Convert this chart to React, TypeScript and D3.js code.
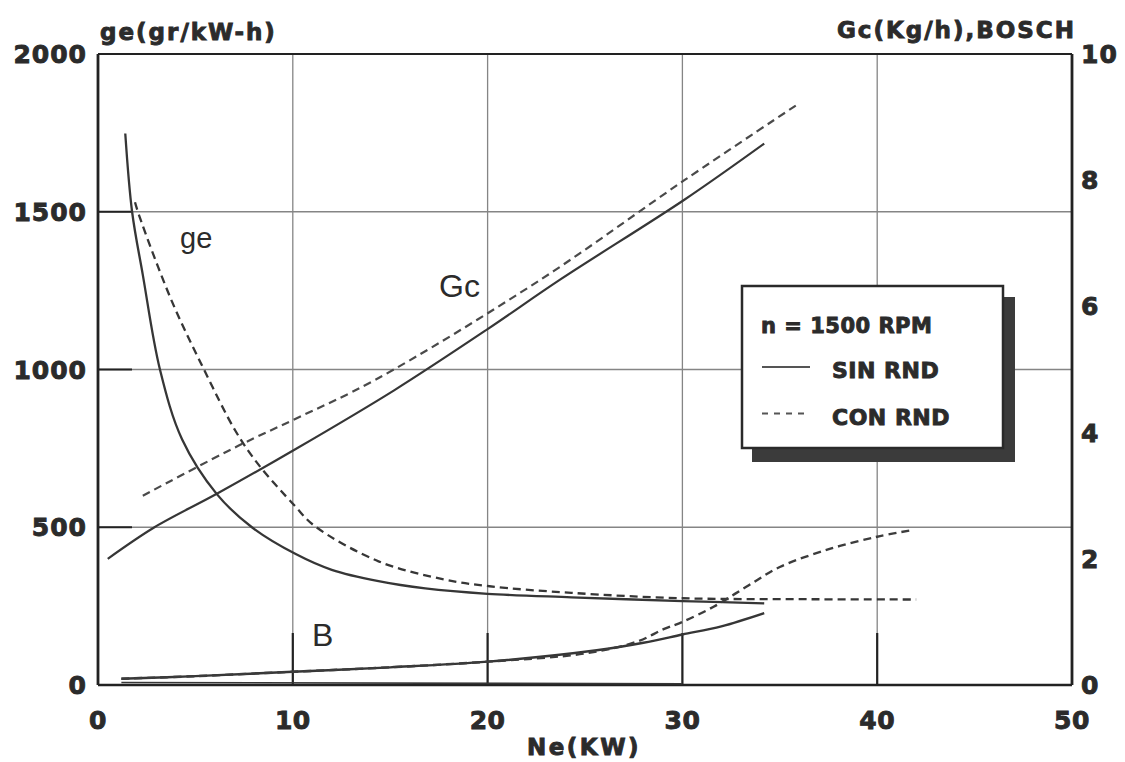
import React from "react";
import * as d3 from "d3";

// x: Ne (kW)
const xTicks = [0, 10, 20, 30, 40, 50];
const yLeftTicks = [0, 500, 1000, 1500, 2000];
const yRightTicks = [0, 2, 4, 6, 8, 10];
const gridX = [10, 20, 30, 40];
const gridY = [500, 1000, 1500];

// ge (gr/kW-h) – SIN RND (solid)
const geSinNe = [1.4, 1.75, 2.3, 3.18, 4.32, 6.1, 7.9, 10.15, 12, 14.4, 16.8, 20, 24.3, 30, 34.2];
const geSinVal = [1748, 1500, 1300, 1000, 778, 605, 500, 415, 365, 329, 306, 289, 278, 266, 259];
// ge – CON RND (dashed)
const geConNe = [1.9, 2.1, 3.8, 5.44, 7.06, 8.22, 10.1, 11.1, 14.4, 17.8, 20.1, 24.3, 30, 36, 42];
const geConVal = [1530, 1490, 1215, 1000, 805, 700, 568, 505, 392, 334, 313, 292, 275, 272, 271];

// Gc (Kg/h) – SIN RND (solid), right axis
const gcSinNe = [0.5, 2.9, 6.1, 10.15, 15.2, 20, 23.7, 30.1, 34.2];
const gcSinVal = [2.0, 2.5, 3.03, 3.74, 4.67, 5.64, 6.42, 7.69, 8.58];
// Gc – CON RND (dashed)
const gcConNe = [2.3, 7.2, 10.15, 14.2, 22.7, 30.1, 36];
const gcConVal = [3.0, 3.79, 4.22, 4.83, 6.42, 8.0, 9.22];

// B – SIN RND (solid), right axis
const bSinNe = [1.2, 5, 10, 15, 20, 25.6, 28, 30, 32, 34.2];
const bSinVal = [0.1, 0.14, 0.21, 0.28, 0.37, 0.55, 0.67, 0.8, 0.93, 1.14];
// B – CON RND (dashed)
const bConNe = [1.2, 5, 10, 15, 20, 25, 27.7, 29, 30, 31.6, 33.3, 35, 37.6, 40, 41.7];
const bConVal = [0.1, 0.14, 0.21, 0.28, 0.37, 0.5, 0.69, 0.88, 1.0, 1.24, 1.56, 1.87, 2.16, 2.35, 2.45];
// faint trace just above the axis
const traceNe = [1.2, 30];
const traceVal = [0.04, 0.02];

const legendTitle = "n = 1500 RPM";
const legendItems = [
  { label: "SIN RND", dashed: false },
  { label: "CON RND", dashed: true },
];

const W = 1125;
const H = 762;
const left = 98;
const right = 1072;
const top = 54;
const bottom = 685;

export default function App() {
  const x = d3.scaleLinear().domain([0, 50]).range([left, right]);
  const yL = d3.scaleLinear().domain([0, 2000]).range([bottom, top]);
  const yR = d3.scaleLinear().domain([0, 10]).range([bottom, top]);

  const mk = (xs: number[], ys: number[], ys2: (v: number) => number) =>
    d3
      .line<number>()
      .x((_, i) => x(xs[i]))
      .y((_, i) => ys2(ys[i]))
      .curve(d3.curveCatmullRom.alpha(0.5))(ys) as string;

  const boldFont = "'DejaVu Sans', sans-serif";
  const txt = "#2b2b2b";
  const curve = "#363636";
  const dash = "8,5";
  const heavy = { stroke: txt, strokeWidth: 0.9, paintOrder: "stroke" } as const;

  return (
    <svg
      width={W}
      height={H}
      style={{ position: "absolute", left: 0, top: 0, background: "#fff" }}
    >
      <rect x={0} y={0} width={W} height={H} fill="#fff" />
      {/* grid */}
      {gridX.map((v) => (
        <line key={"gx" + v} x1={x(v)} x2={x(v)} y1={top} y2={bottom} stroke="#858585" strokeWidth={1.3} />
      ))}
      {gridY.map((v) => (
        <line key={"gy" + v} x1={left} x2={right} y1={yL(v)} y2={yL(v)} stroke="#858585" strokeWidth={1.3} />
      ))}
      {/* emphasised ticks */}
      {gridX.map((v) => (
        <line key={"tx" + v} x1={x(v)} x2={x(v)} y1={bottom} y2={bottom - 52} stroke="#222" strokeWidth={2.2} />
      ))}
      {gridY.map((v) => (
        <line key={"ty" + v} x1={left} x2={left + 34} y1={yL(v)} y2={yL(v)} stroke="#222" strokeWidth={2.2} />
      ))}
      {/* frame */}
      <line x1={left} x2={right} y1={top} y2={top} stroke="#222" strokeWidth={2} />
      <line x1={left} x2={right} y1={bottom} y2={bottom} stroke="#222" strokeWidth={2.5} />
      <line x1={left} x2={left} y1={top} y2={bottom} stroke="#222" strokeWidth={2.8} />
      <line x1={right} x2={right} y1={top} y2={bottom} stroke="#222" strokeWidth={2.8} />

      {/* curves */}
      <path d={mk(geSinNe, geSinVal, yL)} fill="none" stroke={curve} strokeWidth={2.3} />
      <path d={mk(geConNe, geConVal, yL)} fill="none" stroke={curve} strokeWidth={2.3} strokeDasharray={dash} />
      <path d={mk(gcSinNe, gcSinVal, yR)} fill="none" stroke={curve} strokeWidth={2.2} />
      <path d={mk(gcConNe, gcConVal, yR)} fill="none" stroke="#4a4a4a" strokeWidth={2.2} strokeDasharray={dash} />
      <path d={mk(bSinNe, bSinVal, yR)} fill="none" stroke={curve} strokeWidth={2.4} />
      <path d={mk(bConNe, bConVal, yR)} fill="none" stroke="#3c3c3c" strokeWidth={2.4} strokeDasharray={dash} />
      <path d={mk(traceNe, traceVal, yR)} fill="none" stroke={curve} strokeWidth={1.6} />

      {/* curve labels */}
      <text x={180} y={248} fontFamily="'Liberation Sans', Arial, sans-serif" fontSize={29} fill={txt}>ge</text>
      <text x={439} y={297} fontFamily="'Liberation Sans', Arial, sans-serif" fontSize={32} fill={txt}>Gc</text>
      <text x={312} y={646} fontFamily="'Liberation Sans', Arial, sans-serif" fontSize={32} fill={txt}>B</text>

      {/* axis tick labels */}
      {xTicks.map((v) => (
        <text key={"xl" + v} x={x(v)} y={729} textAnchor="middle" fontFamily={boldFont} fontWeight="bold" fontSize={25} letterSpacing={0.5} fill={txt} {...heavy}>
          {v}
        </text>
      ))}
      {yLeftTicks.map((v) => (
        <text key={"yl" + v} x={87} y={yL(v) + 9} textAnchor="end" fontFamily={boldFont} fontWeight="bold" fontSize={25} letterSpacing={1} fill={txt} {...heavy}>
          {v}
        </text>
      ))}
      {yRightTicks.map((v) => (
        <text key={"yr" + v} x={1081} y={yR(v) + 9} textAnchor="start" fontFamily={boldFont} fontWeight="bold" fontSize={25} letterSpacing={1} fill={txt} {...heavy}>
          {v}
        </text>
      ))}

      {/* axis titles */}
      <text x={100} y={40} fontFamily={boldFont} fontWeight="bold" fontSize={23} letterSpacing={2} fill={txt} {...heavy}>
        ge(gr/kW-h)
      </text>
      <text x={1076} y={38} textAnchor="end" fontFamily={boldFont} fontWeight="bold" fontSize={23} letterSpacing={2} fill={txt} {...heavy}>
        Gc(Kg/h),BOSCH
      </text>
      <text x={527} y={755} fontFamily={boldFont} fontWeight="bold" fontSize={23} letterSpacing={2.5} fill={txt} {...heavy}>
        Ne(KW)
      </text>

      {/* legend */}
      <rect x={752} y={297} width={263} height={165} fill="#3b3b3b" />
      <rect x={742} y={286} width={261} height={162} fill="#fff" stroke="#2a2a2a" strokeWidth={2.5} />
      <text x={761} y={333} fontFamily={boldFont} fontWeight="bold" fontSize={21} letterSpacing={0.5} fill={txt} {...heavy}>
        {legendTitle}
      </text>
      {legendItems.map((it, i) => {
        const yy = 367 + i * 46.5;
        return (
          <g key={it.label}>
            <line x1={762} x2={810} y1={yy} y2={yy} stroke="#555" strokeWidth={2} strokeDasharray={it.dashed ? "6,6" : undefined} />
            <text x={832} y={yy + 11} fontFamily={boldFont} fontWeight="bold" fontSize={22} letterSpacing={0.5} fill={txt} {...heavy}>
              {it.label}
            </text>
          </g>
        );
      })}
    </svg>
  );
}
